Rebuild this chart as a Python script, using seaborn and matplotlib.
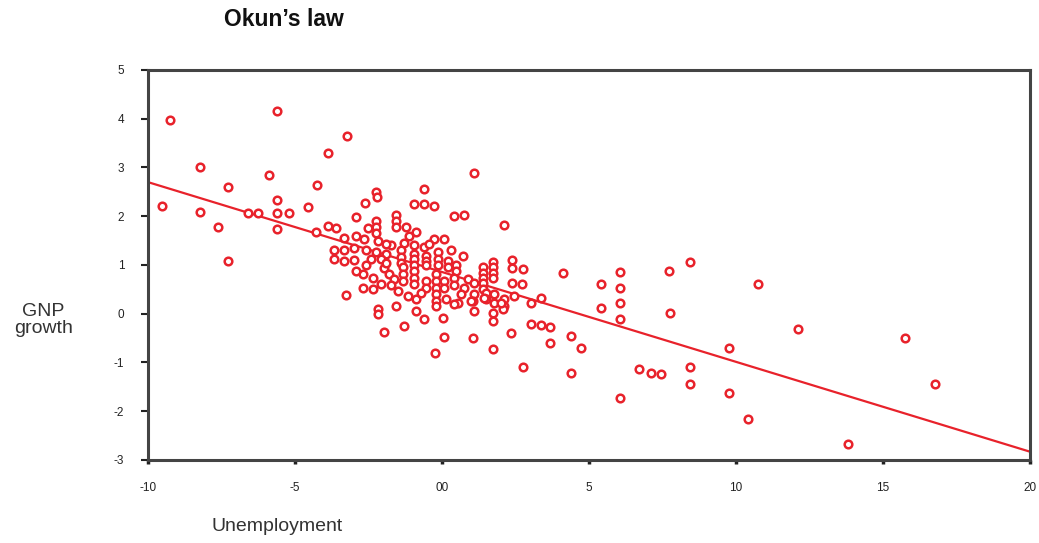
import matplotlib
matplotlib.use("Agg")
import matplotlib.pyplot as plt
import seaborn as sns
import pandas as pd

# ---- data ----
unemployment = [
    -9.52, -9.25, -8.23, -8.23, -7.62, -7.28, -7.28, -6.60, -6.26, -5.88,
    -5.61, -5.61, -5.61, -5.61, -5.20, -4.56, -4.25, -4.29, -3.88, -3.88,
    -3.61, -3.23, -3.33, -3.27, -2.93, -2.62, -2.24, -2.21, -2.24, -2.24,
    -2.24, -1.56, -1.56, -1.56, -1.22, -0.88, -0.61, -0.95, -0.61, -0.27,
    -0.27, 0.07, -2.65, -2.18, -1.29, -0.95, -0.61, -3.67, -3.33, -2.99,
    -2.59, -2.24, -1.90, -1.39, -1.39, -1.39, -0.95, -0.95, -0.95, -0.54,
    -0.54, -0.54, -0.14, -0.14, -0.14, 0.20, 0.20, 0.71, -3.67, -3.33,
    -2.99, -2.41, -2.07, 0.48, 0.48, 1.73, 1.73, 1.73, 1.73, 1.39,
    1.39, 1.39, 1.39, 1.39, 2.38, 2.38, 2.76, 2.38, 2.72, -2.69,
    -2.35, -1.97, -1.80, -1.63, -1.33, -1.33, -1.33, -0.95, -0.95, -0.95,
    -0.54, -0.54, -0.20, -0.20, -0.20, -0.20, -0.20, -0.20, 0.07, 0.07,
    0.41, 0.41, 0.88, 0.75, 1.09, 1.09, -2.69, -2.35, -2.07, -1.73,
    -1.50, -1.16, -0.88, 1.50, 1.50, 1.77, 1.77, 2.11, 2.11, 2.45,
    3.03, 3.37, 0.54, -2.18, -2.18, -1.56, -0.88, 0.03, -0.61, -1.29,
    1.09, 1.73, 1.73, 3.03, 3.37, 3.67, 2.35, -1.97, 0.07, 1.05,
    3.67, -0.24, 1.73, 2.76, 4.39, 4.73, 4.39, 1.09, 0.41, 0.75,
    2.11, 4.12, 5.41, 5.41, 6.05, 6.05, 6.05, 6.05, 6.05, 7.72,
    8.44, 7.76, 6.70, 7.11, 7.45, 8.44, 8.44, 9.76, 9.76, 10.41,
    10.75, 12.11, 13.81, 15.75, 16.77, 2.07, 1.05, 2.01, -1.90, -1.73,
    -2.59, -2.93, -0.71, 0.14, 0.65, 0.99, 0.31, -0.44, -1.12, -1.90,
    -2.52, -2.93, 0.41, 1.43,
]
gnp_growth = [
    2.20, 3.97, 3.00, 2.08, 1.77, 2.59, 1.09, 2.06, 2.06, 2.84,
    4.16, 2.33, 2.06, 1.73, 2.06, 2.18, 2.65, 1.67, 3.29, 1.79,
    1.75, 3.64, 1.56, 0.39, 1.98, 2.28, 2.49, 2.39, 1.91, 1.77,
    1.65, 2.02, 1.91, 1.77, 1.77, 1.67, 2.55, 2.26, 2.26, 2.22,
    1.54, 1.54, 1.54, 1.50, 1.46, 1.40, 1.36, 1.30, 1.30, 1.34,
    1.30, 1.26, 1.23, 1.30, 1.17, 1.05, 1.23, 1.13, 0.99, 1.19,
    1.09, 0.99, 1.26, 1.13, 0.99, 1.09, 0.95, 1.19, 1.13, 1.09,
    1.11, 1.13, 1.13, 0.99, 0.88, 1.07, 0.95, 0.84, 0.74, 0.95,
    0.84, 0.74, 0.64, 0.51, 1.11, 0.93, 0.91, 0.64, 0.62, 0.82,
    0.74, 0.93, 0.82, 0.72, 0.95, 0.82, 0.68, 0.88, 0.74, 0.62,
    0.68, 0.53, 0.82, 0.68, 0.53, 0.41, 0.27, 0.16, 0.68, 0.53,
    0.74, 0.58, 0.72, 0.53, 0.64, 0.41, 0.53, 0.51, 0.62, 0.58,
    0.47, 0.37, 0.31, 0.43, 0.31, 0.41, 0.23, 0.31, 0.16, 0.37,
    0.23, 0.33, 0.21, 0.10, 0.00, 0.16, 0.06, -0.08, -0.10, -0.25,
    0.06, 0.02, -0.14, -0.21, -0.23, -0.27, -0.39, -0.37, -0.47, -0.49,
    -0.60, -0.80, -0.72, -1.09, -0.45, -0.70, -1.21, 2.88, 2.00, 2.02,
    1.83, 0.84, 0.60, 0.12, 0.86, 0.53, 0.21, -0.10, -1.73, 0.88,
    1.07, 0.02, -1.13, -1.21, -1.23, -1.09, -1.44, -0.70, -1.63, -2.16,
    0.60, -0.31, -2.67, -0.49, -1.44, 0.10, 0.27, 0.21, 1.05, 1.40,
    0.99, 0.88, 0.43, 0.31, 0.41, 0.27, 1.30, 1.44, 1.60, 1.44,
    1.75, 1.60, 0.20, 0.33,
]
fit_x = [-10, 20]
fit_y = [2.70, -2.83]

x_ticks = [-10, -5, 0, 5, 10, 15, 20]
x_tick_labels = ["-10", "-5", "00", "5", "10", "15", "20"]
y_ticks = [-3, -2, -1, 0, 1, 2, 3, 4, 5]
y_tick_labels = ["-3", "-2", "-1", "0", "1", "2", "3", "4", "5"]

# ---- plotting ----
sns.set_theme(style="white")
plt.rcParams["font.family"] = ["Liberation Sans", "DejaVu Sans"]

RED = "#e8222b"
df = pd.DataFrame({"Unemployment": unemployment, "GNP growth": gnp_growth})
line_df = pd.DataFrame({"x": fit_x, "y": fit_y})

fig = plt.figure(figsize=(10.39, 5.43), dpi=100)
ax = fig.add_axes([0.1424, 0.1529, 0.8489, 0.7182])

sns.lineplot(data=line_df, x="x", y="y", ax=ax, color=RED, linewidth=1.6)
sns.scatterplot(data=df, x="Unemployment", y="GNP growth", ax=ax,
                marker="o", s=30, facecolor="white", edgecolor=RED,
                linewidth=1.8, zorder=3)

ax.set_xlim(-10, 20)
ax.set_ylim(-3, 5)
ax.set_xticks(x_ticks)
ax.set_xticklabels(x_tick_labels)
ax.set_yticks(y_ticks)
ax.set_yticklabels(y_tick_labels)
ax.tick_params(axis="x", bottom=True, direction="out", length=3, width=2.5,
               colors="#222222", labelsize=8.5, pad=13)
ax.tick_params(axis="y", left=True, direction="out", length=5, width=1.5,
               colors="#222222", labelsize=8.5, pad=12)
ax.set_xlabel("")
ax.set_ylabel("")
for side, spine in ax.spines.items():
    spine.set_visible(True)
    spine.set_color("#444444")
    spine.set_linewidth(2.2)

fig.text(0.2733, 0.965, "Okun\u2019s law", ha="center", va="center",
         fontsize=16.5, fontweight="bold", color="#111111")
fig.text(0.042, 0.411, "GNP\ngrowth", ha="center", va="center",
         fontsize=14, color="#333333", linespacing=1.05)
fig.text(0.267, 0.03, "Unemployment", ha="center", va="center",
         fontsize=14, color="#333333")

fig.savefig("out.png", dpi=100, facecolor="white")
